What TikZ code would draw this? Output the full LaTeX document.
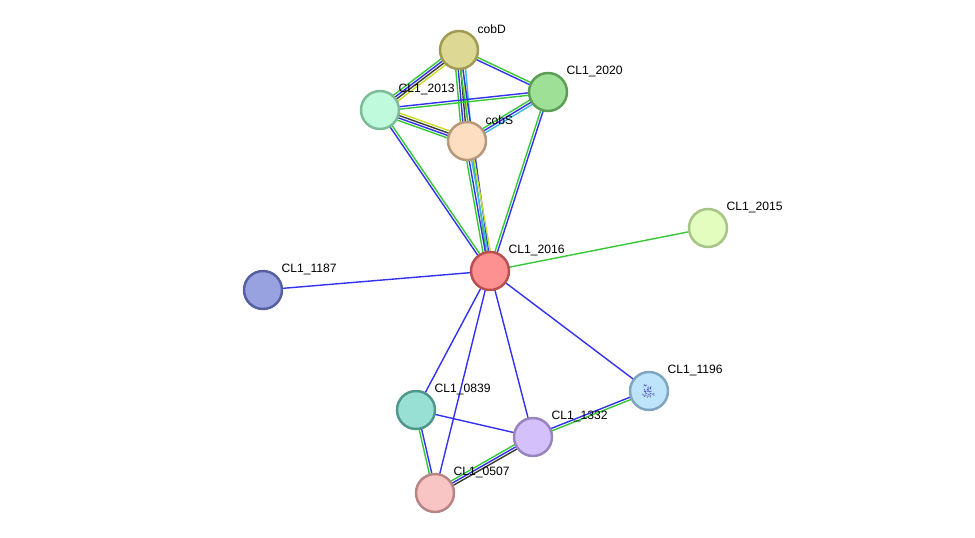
\documentclass[tikz,border=0pt]{standalone}
\usepackage{fontspec}
\setmainfont{Liberation Sans}
\usetikzlibrary{calc,backgrounds}

\definecolor{lgreen}{RGB}{55,200,55}
\definecolor{lblue}{RGB}{50,50,240}
\definecolor{lblack}{RGB}{60,60,60}
\definecolor{lyellow}{RGB}{200,220,40}
\definecolor{lcyan}{RGB}{60,185,230}
% protein fills and rims
\definecolor{fcobD}{RGB}{221,217,148}  \definecolor{dcobD}{RGB}{160,154,82}
\definecolor{f2020}{RGB}{158,224,150}  \definecolor{d2020}{RGB}{90,158,85}
\definecolor{f2013}{RGB}{192,250,220}  \definecolor{d2013}{RGB}{124,189,152}
\definecolor{fcobS}{RGB}{253,222,192}  \definecolor{dcobS}{RGB}{184,152,122}
\definecolor{f2015}{RGB}{226,253,190}  \definecolor{d2015}{RGB}{166,196,134}
\definecolor{f2016}{RGB}{253,145,145}  \definecolor{d2016}{RGB}{184,80,80}
\definecolor{f1187}{RGB}{152,162,224}  \definecolor{d1187}{RGB}{85,96,160}
\definecolor{f1196}{RGB}{189,228,251}  \definecolor{d1196}{RGB}{127,165,191}
\definecolor{f0839}{RGB}{152,224,212}  \definecolor{d0839}{RGB}{79,150,140}
\definecolor{f1332}{RGB}{212,192,251}  \definecolor{d1332}{RGB}{152,132,192}
\definecolor{f0507}{RGB}{248,196,196}  \definecolor{d0507}{RGB}{184,132,132}

\tikzset{
  gene/.style={circle, minimum size=0.76cm, inner sep=0pt,
    line width=1.4pt, fill=f#1, draw=d#1},
  tag/.style={inner sep=0pt, xshift=-0.04cm, yshift=0.41cm,
    font=\fontsize{6.9}{8}\selectfont},
  wire/.style={line width=0.8pt}
}

% several parallel lines between two nodes, one per colour
\newcommand\link[3]{%
  \foreach \c [count=\i] in {#3} {\xdef\nlines{\i}}%
  \foreach \c [count=\i] in {#3} {%
    \pgfmathsetmacro\off{(\i-(\nlines+1)/2)*1.4}%
    \draw[wire,\c] ($(#1)!\off pt!90:(#2)$) -- ($(#2)!\off pt!-90:(#1)$);
  }}

\begin{document}
\begin{tikzpicture}[x=0.02cm,y=-0.02cm]
\path[use as bounding box] (0,0) rectangle (975,538);

% proteins
\node[gene=cobD, label={[tag]right:cobD}] (cobD) at (459,50) {};
\node[gene=2020, label={[tag]right:CL1\_2020}] (n2020) at (548,92) {};
\node[gene=2013, label={[tag]right:CL1\_2013}] (n2013) at (380,110) {};
\node[gene=cobS, label={[tag]right:cobS}] (cobS) at (467,141) {};
\node[gene=2015, label={[tag]right:CL1\_2015}] (n2015) at (708,228) {};
\node[gene=2016, label={[tag]right:CL1\_2016}] (n2016) at (490,271) {};
\node[gene=1187, label={[tag]right:CL1\_1187}] (n1187) at (263,290) {};
\node[gene=1196, label={[tag]right:CL1\_1196}] (n1196) at (649,391) {};
\node[gene=0839, label={[tag]right:CL1\_0839}] (n0839) at (416,410) {};
\node[gene=1332, label={[tag]right:CL1\_1332}] (n1332) at (533,437) {};
\node[gene=0507, label={[tag]right:CL1\_0507}] (n0507) at (435,493) {};

% small structure picture inside CL1_1196
\pgfmathsetseed{7}
\foreach \k in {1,...,30}
  \draw[lblue!70!black!80, line width=0.35pt]
    ($(n1196)+(rnd*11-5.5,rnd*11-5.5)$) -- ++(rnd*4-2,rnd*4-2);

% evidence lines
\begin{pgfonlayer}{background}
\link{cobD}{n2020}{lblue,lgreen}
\link{cobD}{n2013}{lgreen,lblue,lblack,lyellow}
\link{cobD}{cobS}{lgreen,lblue,lblack,lyellow,lcyan}
\link{cobD}{n2016}{lgreen,lblue}
\link{n2013}{n2020}{lgreen,lblue}
\link{n2013}{cobS}{lgreen,lblue,lblack,lyellow}
\link{n2013}{n2016}{lblue,lgreen}
\link{n2020}{cobS}{lgreen,lblue,lcyan}
\link{n2020}{n2016}{lgreen,lblue}
\link{cobS}{n2016}{lgreen,lblue,lcyan,lyellow}
\link{n2016}{n2015}{lgreen}
\link{n2016}{n1187}{lblue}
\link{n2016}{n0839}{lblue}
\link{n2016}{n0507}{lblue}
\link{n2016}{n1332}{lblue}
\link{n2016}{n1196}{lblue}
\link{n0839}{n1332}{lblue}
\link{n0839}{n0507}{lgreen,lblue}
\link{n1332}{n0507}{lgreen,lblue,lblack}
\link{n1332}{n1196}{lgreen,lblue}
\end{pgfonlayer}
\end{tikzpicture}
\end{document}
